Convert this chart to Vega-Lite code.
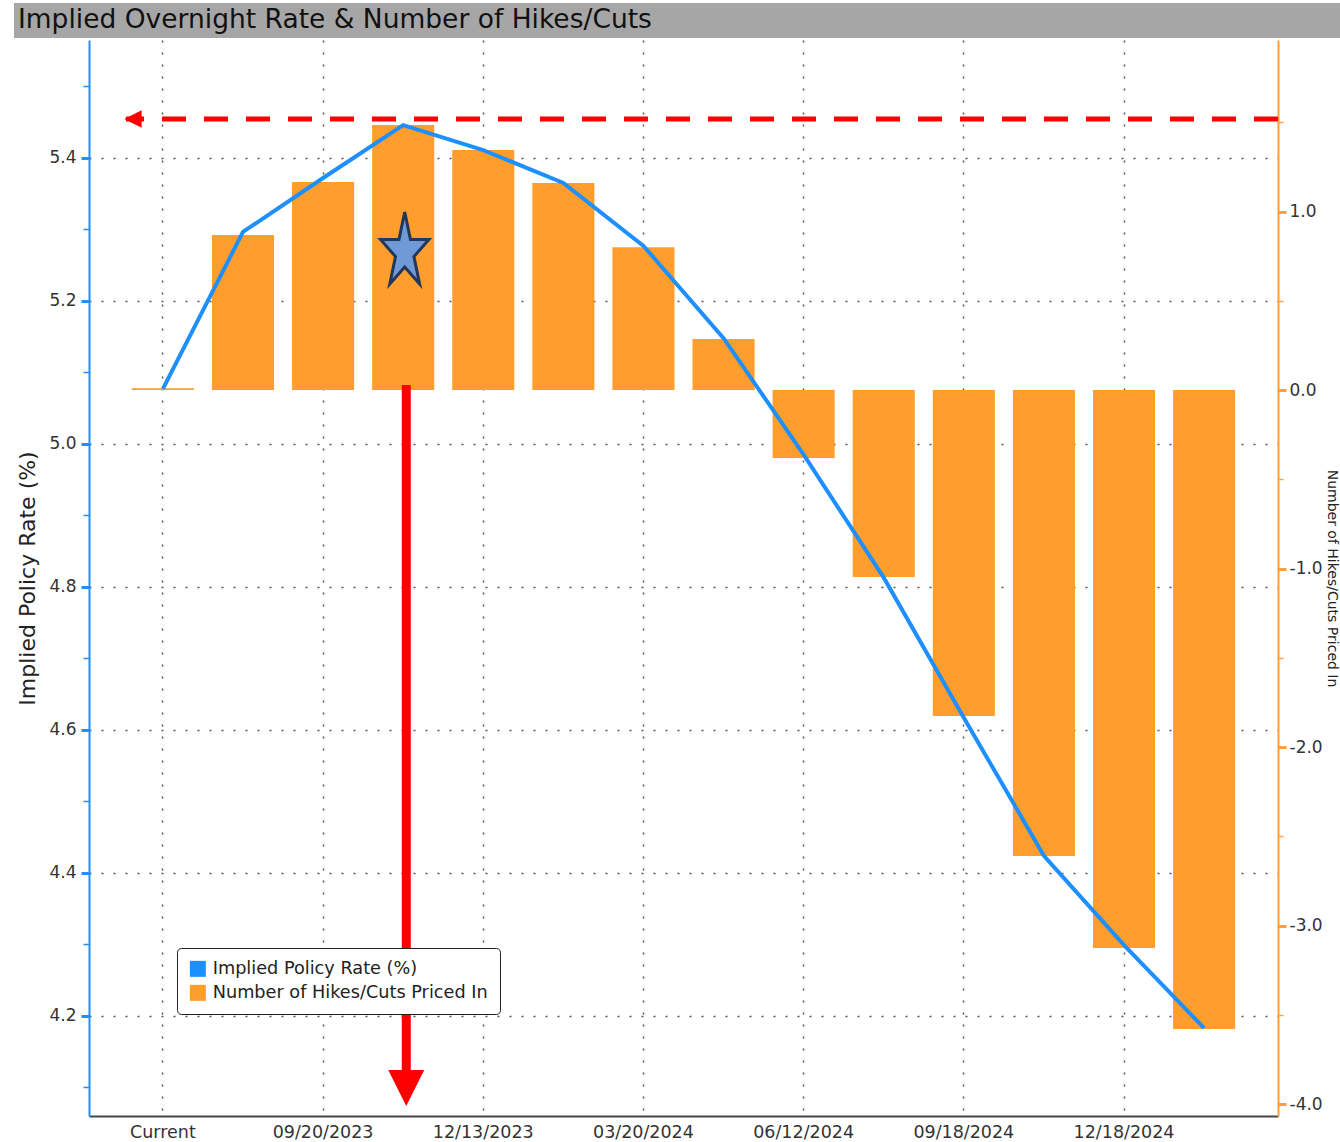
{
  "$schema": "https://vega.github.io/schema/vega-lite/v6.json",
  "background": "white",
  "padding": {"left": 13, "top": 3, "right": 0, "bottom": 0},
  "width": 1189,
  "height": 1076,
  "config": {
    "font": "DejaVu Sans",
    "view": {"stroke": null},
    "axis": {"labelFont": "DejaVu Sans", "titleFont": "DejaVu Sans"},
    "legend": {"labelFont": "DejaVu Sans"}
  },
  "datasets": {
    "meetings": [
      {"d": "Current", "rate": 5.077, "hikes": 0.01},
      {"d": "07/26/2023", "rate": 5.2965, "hikes": 0.868},
      {"d": "09/20/2023", "rate": 5.372, "hikes": 1.165},
      {"d": "11/01/2023", "rate": 5.446, "hikes": 1.485},
      {"d": "12/13/2023", "rate": 5.411, "hikes": 1.345},
      {"d": "01/31/2024", "rate": 5.365, "hikes": 1.16},
      {"d": "03/20/2024", "rate": 5.277, "hikes": 0.8},
      {"d": "05/01/2024", "rate": 5.148, "hikes": 0.286},
      {"d": "06/12/2024", "rate": 4.985, "hikes": -0.381},
      {"d": "07/31/2024", "rate": 4.813, "hikes": -1.048},
      {"d": "09/18/2024", "rate": 4.617, "hikes": -1.826},
      {"d": "11/07/2024", "rate": 4.424, "hikes": -2.61},
      {"d": "12/18/2024", "rate": 4.299, "hikes": -3.126},
      {"d": "01/29/2025", "rate": 4.183, "hikes": -3.58}
    ]
  },
  "layer": [
    {
      "layer": [
        {
          "data": {"name": "meetings"},
          "mark": {"type": "bar"},
          "encoding": {
            "x": {
              "field": "d", "type": "nominal", "sort": null, "title": null,
              "scale": {"type": "band", "domain": ["Current", "07/26/2023", "09/20/2023", "11/01/2023", "12/13/2023", "01/31/2024", "03/20/2024", "05/01/2024", "06/12/2024", "07/31/2024", "09/18/2024", "11/07/2024", "12/18/2024", "01/29/2025"], "paddingInner": 0.225, "paddingOuter": 0.535},
              "axis": {
                "values": ["Current", "09/20/2023", "12/13/2023", "03/20/2024", "06/12/2024", "09/18/2024", "12/18/2024"],
                "labelAngle": 0, "labelFontSize": 17.5, "labelColor": "#333333", "labelPadding": 7,
                "ticks": false, "domainColor": "#444444", "domainWidth": 2,
                "grid": true, "gridDash": [2, 10], "gridColor": "#555555", "gridWidth": 1.5
              }
            },
            "y": {
              "field": "hikes", "type": "quantitative", "title": "Number of Hikes/Cuts Priced In",
              "scale": {"domain": [-4.067, 1.961], "nice": false, "zero": false},
              "axis": {
                "orient": "right", "values": [-4, -3.5, -3, -2.5, -2, -1.5, -1, -0.5, 0, 0.5, 1, 1.5], "grid": false,
                "labelExpr": "datum.value % 1 === 0 ? replace(format(datum.value, '.1f'), '\u2212', '-') : ''",
                "domainColor": "#ffa040", "domainWidth": 2, "tickColor": "#ffa040",
                "tickSize": {"condition": {"test": "datum.value % 1 !== 0", "value": 5}, "value": 8},
                "tickWidth": {"condition": {"test": "datum.value % 1 !== 0", "value": 1.5}, "value": 3},
                "labelFontSize": 17, "labelColor": "#333333", "labelPadding": 3,
                "titleFontSize": 14, "titleFontWeight": "normal", "titleColor": "#222222", "titlePadding": 2
              }
            },
            "y2": {"datum": 0},
            "color": {
              "datum": "Number of Hikes/Cuts Priced In",
              "scale": {"domain": ["Implied Policy Rate (%)", "Number of Hikes/Cuts Priced In"], "range": ["#1e8fff", "#ff9e2c"]},
              "legend": {
                "orient": "none", "legendX": 88, "legendY": 908, "title": null,
                "symbolType": "square", "symbolSize": 256, "symbolStrokeWidth": 0,
                "labelFontSize": 17.7, "labelColor": "#222222", "labelOffset": 6, "labelLimit": 0,
                "strokeColor": "#222222", "fillColor": "#ffffff", "padding": 12, "cornerRadius": 4, "rowPadding": 5
              }
            }
          }
        },
        {
          "layer": [
            {
              "data": {"name": "meetings"},
              "mark": {"type": "line", "color": "#1e8fff", "strokeWidth": 4},
              "encoding": {
                "x": {"field": "d", "type": "nominal", "sort": null, "title": null, "scale": {"type": "band", "domain": ["Current", "07/26/2023", "09/20/2023", "11/01/2023", "12/13/2023", "01/31/2024", "03/20/2024", "05/01/2024", "06/12/2024", "07/31/2024", "09/18/2024", "11/07/2024", "12/18/2024", "01/29/2025"], "paddingInner": 0.225, "paddingOuter": 0.535}},
                "y": {
                  "field": "rate", "type": "quantitative", "title": "Implied Policy Rate (%)",
                  "scale": {"domain": [4.06, 5.565], "nice": false, "zero": false},
                  "axis": {
                    "orient": "left", "values": [4.1, 4.2, 4.3, 4.4, 4.5, 4.6, 4.7, 4.8, 4.9, 5.0, 5.1, 5.2, 5.3, 5.4, 5.5],
                    "labelExpr": "round(datum.value * 10) % 2 === 0 ? format(datum.value, '.1f') : ''",
                    "grid": true, "gridDash": [2, 10], "gridColor": "#555555", "gridWidth": 1.5,
                    "gridOpacity": {"condition": {"test": "round(datum.value * 10) % 2 !== 0", "value": 0}, "value": 1},
                    "domainColor": "#1e8fff", "domainWidth": 2, "tickColor": "#1e8fff",
                    "tickSize": {"condition": {"test": "round(datum.value * 10) % 2 !== 0", "value": 6}, "value": 8},
                    "tickWidth": {"condition": {"test": "round(datum.value * 10) % 2 !== 0", "value": 1.5}, "value": 3},
                    "labelFontSize": 17, "labelColor": "#333333", "labelPadding": 5,
                    "titleFontSize": 22, "titleFontWeight": "normal", "titleColor": "#222222", "titlePadding": 9
                  }
                }
              }
            },
            {
              "data": {"values": [{"d": "11/01/2023", "top": 5.0825, "bottom": 4.117}]},
              "mark": {"type": "rule", "color": "#ff0000", "strokeWidth": 9},
              "encoding": {
                "x": {"field": "d", "type": "nominal", "sort": null, "title": null, "bandPosition": 0.55, "scale": {"type": "band", "domain": ["Current", "07/26/2023", "09/20/2023", "11/01/2023", "12/13/2023", "01/31/2024", "03/20/2024", "05/01/2024", "06/12/2024", "07/31/2024", "09/18/2024", "11/07/2024", "12/18/2024", "01/29/2025"], "paddingInner": 0.225, "paddingOuter": 0.535}},
                "y": {"field": "top", "type": "quantitative", "title": "Implied Policy Rate (%)", "scale": {"domain": [4.06, 5.565], "nice": false, "zero": false}},
                "y2": {"field": "bottom"}
              }
            },
            {
              "data": {"values": [{"d": "11/01/2023", "head": 4.099}]},
              "mark": {"type": "point", "shape": "M-1,-1L1,-1L0,1Z", "size": 1296, "filled": true, "color": "#ff0000", "opacity": 1},
              "encoding": {
                "x": {"field": "d", "type": "nominal", "sort": null, "title": null, "bandPosition": 0.55, "scale": {"type": "band", "domain": ["Current", "07/26/2023", "09/20/2023", "11/01/2023", "12/13/2023", "01/31/2024", "03/20/2024", "05/01/2024", "06/12/2024", "07/31/2024", "09/18/2024", "11/07/2024", "12/18/2024", "01/29/2025"], "paddingInner": 0.225, "paddingOuter": 0.535}},
                "y": {"field": "head", "type": "quantitative", "title": "Implied Policy Rate (%)", "scale": {"domain": [4.06, 5.565], "nice": false, "zero": false}}
              }
            },
            {
              "data": {"values": [{"d": "11/01/2023", "star": 5.274}]},
              "mark": {"type": "point", "shape": "M0,-1L0.159,-0.236L0.67,-0.236L0.256,0.236L0.414,1L0,0.528L-0.414,1L-0.256,0.236L-0.67,-0.236L-0.159,-0.236Z", "size": 5200, "filled": true, "fill": "#7099d8", "stroke": "#22375a", "strokeWidth": 3, "opacity": 1},
              "encoding": {
                "x": {"field": "d", "type": "nominal", "sort": null, "title": null, "bandPosition": 0.525, "scale": {"type": "band", "domain": ["Current", "07/26/2023", "09/20/2023", "11/01/2023", "12/13/2023", "01/31/2024", "03/20/2024", "05/01/2024", "06/12/2024", "07/31/2024", "09/18/2024", "11/07/2024", "12/18/2024", "01/29/2025"], "paddingInner": 0.225, "paddingOuter": 0.535}},
                "y": {"field": "star", "type": "quantitative", "title": "Implied Policy Rate (%)", "scale": {"domain": [4.06, 5.565], "nice": false, "zero": false}}
              }
            }
          ]
        }
      ],
      "resolve": {"scale": {"y": "independent"}}
    },
    {
      "layer": [
        {
          "data": {"values": [{"x0": -1.861, "x1": 14.711, "y0": 5.5678, "y1": 5.6167}]},
          "mark": {"type": "rect", "color": "#a6a6a6", "opacity": 1},
          "encoding": {
            "x": {"field": "x0", "type": "quantitative", "scale": {"domain": [-0.924, 13.924], "nice": false, "zero": false}, "axis": null},
            "x2": {"field": "x1"},
            "y": {"field": "y0", "type": "quantitative", "scale": {"domain": [4.06, 5.565], "nice": false, "zero": false}, "axis": null},
            "y2": {"field": "y1"}
          }
        },
        {
          "data": {"values": [{"tx": -1.811, "ty": 5.5923, "t": "Implied Overnight Rate & Number of Hikes/Cuts"}]},
          "mark": {"type": "text", "align": "left", "baseline": "middle", "fontSize": 26.5, "font": "DejaVu Sans", "color": "#111111"},
          "encoding": {
            "text": {"field": "t"},
            "x": {"field": "tx", "type": "quantitative", "scale": {"domain": [-0.924, 13.924], "nice": false, "zero": false}, "axis": null},
            "y": {"field": "ty", "type": "quantitative", "scale": {"domain": [4.06, 5.565], "nice": false, "zero": false}, "axis": null}
          }
        },
        {
          "data": {"values": [{"x0": -0.462, "x1": 13.924, "level": 5.4545}]},
          "mark": {"type": "rule", "color": "#ff0000", "strokeWidth": 5, "strokeDash": [24, 18], "strokeDashOffset": 6},
          "encoding": {
            "x": {"field": "x0", "type": "quantitative", "scale": {"domain": [-0.924, 13.924], "nice": false, "zero": false}, "axis": null},
            "x2": {"field": "x1"},
            "y": {"field": "level", "type": "quantitative", "scale": {"domain": [4.06, 5.565], "nice": false, "zero": false}, "axis": null}
          }
        },
        {
          "data": {"values": [{"ax": -0.375, "level": 5.4545}]},
          "mark": {"type": "point", "shape": "M1,-1L1,1L-1,0Z", "size": 300, "filled": true, "color": "#ff0000", "opacity": 1},
          "encoding": {
            "x": {"field": "ax", "type": "quantitative", "scale": {"domain": [-0.924, 13.924], "nice": false, "zero": false}, "axis": null},
            "y": {"field": "level", "type": "quantitative", "scale": {"domain": [4.06, 5.565], "nice": false, "zero": false}, "axis": null}
          }
        }
      ]
    }
  ],
  "resolve": {"scale": {"x": "independent", "y": "independent"}}
}
